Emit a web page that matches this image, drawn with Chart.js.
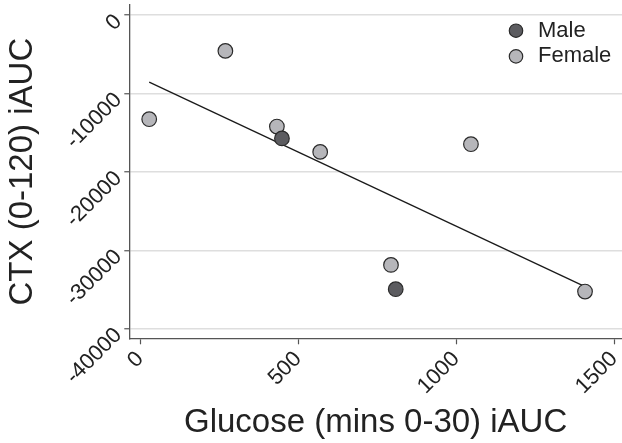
<!DOCTYPE html>
<html lang="en">
<head>
  <meta charset="UTF-8" />
  <title>CTX vs Glucose iAUC</title>
  <style>
    * {
      margin: 0;
      padding: 0;
      box-sizing: border-box;
    }

    body {
      background: #fff;
    }

    /* fixed size box for the chart */
    .chart-box {
      position: relative;
      width: 622px;
      height: 443px;
    }
  </style>
</head>
<body>
  <div class="chart-box">
    <canvas id="scatterChart"></canvas>
  </div>

  <!-- Chart.js CDN -->
  <script src="https://cdn.jsdelivr.net/npm/chart.js"></script>

  <script>
    // ================================
    // Data
    // ================================
    const femaleX = [29, 270, 433, 570, 1047, 794, 1408];
    const femaleY = [-13260, -4550, -14200, -17430, -16450, -31840, -35240];

    const maleX = [449, 809];
    const maleY = [-15710, -34940];

    // regression line end points
    const fitX = [29, 1408];
    const fitY = [-8540, -34610];

    const xTicks = [0, 500, 1000, 1500];
    const yTicks = [0, -10000, -20000, -30000, -40000];

    const toPoints = (xs, ys) => xs.map((x, i) => ({ x: x, y: ys[i] }));

    Chart.defaults.font.family = "'Liberation Sans', Arial, sans-serif";
    Chart.defaults.color = '#222';

    // put the legend in the top right corner of the plot
    const legendMover = {
      id: 'legendMover',
      afterLayout(chart) {
        const area = chart.chartArea;
        chart.legend.left = area.right - 120.7;
        chart.legend.top = area.top + 11;
      }
    };

    const ctx = document.getElementById('scatterChart').getContext('2d');
    const scatterChart = new Chart(ctx, {
      type: 'scatter',
      data: {
        datasets: [{
          label: 'Male',
          data: toPoints(maleX, maleY),
          backgroundColor: '#5c5c60',
          borderColor: '#2b2b2b',
          borderWidth: 1.2,
          pointRadius: 7.3,
          order: 0
        },
        {
          label: 'Female',
          data: toPoints(femaleX, femaleY),
          backgroundColor: '#b6b6ba',
          borderColor: '#2b2b2b',
          borderWidth: 1.2,
          pointRadius: 7.3,
          order: 1
        },
        {
          label: 'Fit',
          data: toPoints(fitX, fitY),
          showLine: true,
          borderColor: '#1a1a1a',
          borderWidth: 1.3,
          pointRadius: 0,
          fill: false,
          order: 2
        }]
      },
      options: {
        responsive: true,
        maintainAspectRatio: false,
        animation: false,
        layout: {
          autoPadding: false,
          padding: { top: 5, right: 0, bottom: 0, left: 0 }
        },
        plugins: {
          tooltip: { enabled: false },
          legend: {
            position: 'chartArea',
            align: 'start',
            labels: {
              usePointStyle: true,
              boxWidth: 22,
              boxHeight: 9.5,
              padding: 3.7,
              font: { size: 22 },
              color: '#222',
              filter: (item) => item.text !== 'Fit'
            }
          }
        },
        scales: {
          x: {
            type: 'linear',
            min: -34,
            max: 1525,
            afterBuildTicks: (scale) => {
              scale.ticks = xTicks.map(v => ({ value: v }));
            },
            afterFit: (scale) => {
              scale.height = 104.7;
              scale.paddingLeft = 0;
              scale.paddingRight = 0;
            },
            ticks: {
              minRotation: 45,
              maxRotation: 45,
              autoSkip: false,
              padding: 2,
              font: { size: 22 },
              color: '#222',
              callback: (v) => String(v)
            },
            grid: {
              drawOnChartArea: false,
              tickLength: 6,
              tickColor: '#555',
              tickWidth: 1.2
            },
            border: { color: '#555', width: 1.3 },
            title: {
              display: true,
              text: 'Glucose (mins 0-30) iAUC',
              font: { size: 33 },
              color: '#222',
              padding: 0
            }
          },
          y: {
            type: 'linear',
            min: -41200,
            max: 1300,
            afterBuildTicks: (scale) => {
              scale.ticks = yTicks.map(v => ({ value: v }));
            },
            afterFit: (scale) => {
              scale.width = 129.3;
              scale.paddingTop = 0;
              scale.paddingBottom = 0;
            },
            ticks: {
              minRotation: 45,
              maxRotation: 45,
              padding: 6,
              labelOffset: 3,
              font: { size: 22 },
              color: '#222',
              callback: (v) => String(v)
            },
            grid: {
              color: '#dedede',
              lineWidth: 1.5,
              tickLength: 5,
              tickColor: '#555',
              tickWidth: 1.2
            },
            border: { color: '#555', width: 1.3 },
            title: {
              display: true,
              text: 'CTX (0-120) iAUC',
              font: { size: 33 },
              color: '#222',
              padding: { top: 3, bottom: 0 }
            }
          }
        }
      },
      plugins: [legendMover]
    });
  </script>
</body>
</html>
